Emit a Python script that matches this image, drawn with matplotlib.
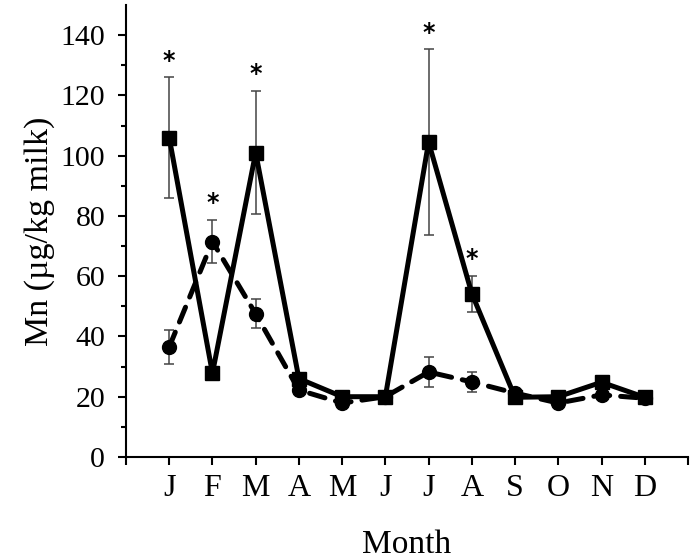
import matplotlib
matplotlib.use("Agg")
import matplotlib.pyplot as plt
import numpy as np

months = ["J", "F", "M", "A", "M", "J", "J", "A", "S", "O", "N", "D"]
solid_mean = [106.0, 27.8, 101.0, 26.0, 20.0, 20.0, 104.5, 54.2, 19.8, 20.0, 24.8, 19.8]
solid_err = [20.0, 0, 20.5, 0, 0, 0, 30.8, 6.0, 0, 0, 0, 0]
dashed_mean = [36.5, 71.5, 47.5, 22.2, 17.9, 20.0, 28.2, 24.9, 21.2, 17.9, 20.6, 19.5]
dashed_err = [5.8, 7.2, 4.8, 0, 0, 0, 5.0, 3.2, 0, 0, 0, 0]
significant = [True, True, True, False, False, False, True, True, False, False, False, False]

plt.rcParams['font.family'] = ['Liberation Serif', 'DejaVu Serif']

fig = plt.figure(figsize=(6.96, 5.6), dpi=100)
ax = fig.add_axes([0.181, 0.184, 0.8075, 0.807])

x = np.arange(1, len(months) + 1)

ax.errorbar(x, dashed_mean, yerr=dashed_err, fmt='none', ecolor='#444444',
            elinewidth=1.1, capsize=3.5, capthick=1.1, zorder=2)
ax.errorbar(x, solid_mean, yerr=solid_err, fmt='none', ecolor='#444444',
            elinewidth=1.1, capsize=3.5, capthick=1.1, zorder=2)

ax.plot(x, dashed_mean, color='black', lw=3.6, ls=(0, (3.2, 2.2)),
        dash_capstyle='round', marker='o', markersize=10, zorder=3)
ax.plot(x, solid_mean, color='black', lw=3.6, ls='-',
        marker='s', markersize=9.5, zorder=4)

for xi, sig, sm, se, dm, de in zip(x, significant, solid_mean, solid_err, dashed_mean, dashed_err):
    if sig:
        top = max(sm + se, dm + de)
        ax.text(xi, top + 5.5, "*", ha='center', va='center', fontsize=17,
                family='DejaVu Sans', fontweight='bold')

ax.set_xlim(0, 13)
ax.set_ylim(0, 150)
ax.set_xticks(np.arange(0, 14))
ax.set_xticklabels([""] + months + [""])
ax.set_yticks(np.arange(0, 141, 20))
ax.set_yticks(np.arange(10, 150, 20), minor=True)

for s in ['top', 'right']:
    ax.spines[s].set_visible(False)
for s in ['left', 'bottom']:
    ax.spines[s].set_linewidth(1.5)

ax.tick_params(axis='both', which='major', direction='out', length=6, width=1.5)
ax.tick_params(axis='y', which='major', labelsize=21.5, pad=9)
ax.tick_params(axis='x', which='major', labelsize=23, pad=6)
ax.tick_params(axis='y', which='minor', direction='out', length=3.5, width=1.5)

ax.set_xlabel("Month", fontsize=24, labelpad=19)
ax.set_ylabel("Mn (µg/kg milk)", fontsize=24.5, labelpad=4)

fig.savefig("out.png", dpi=100)
